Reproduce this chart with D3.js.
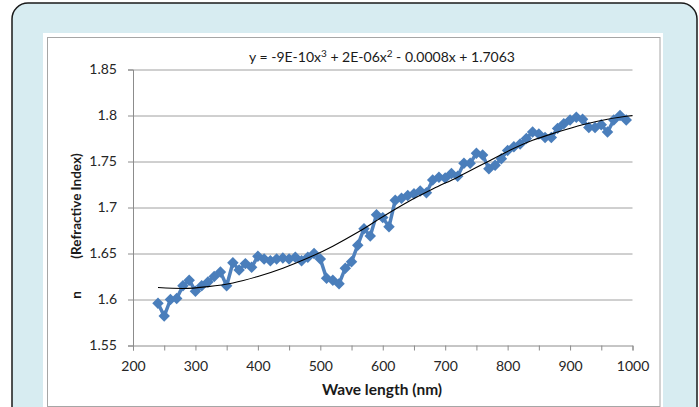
<!DOCTYPE html>
<html>
<head>
<meta charset="utf-8">
<script src="https://cdn.jsdelivr.net/npm/d3@7"></script>
<style>
body { margin: 0; background: #ffffff; }
svg { display: block; font-family: Lato, "Open Sans", sans-serif; }
.tick text { fill: #262626; }
</style>
</head>
<body>
<svg id="chart"></svg>
<script>
// wavelengths (nm) of the measured points
var waveLengths = [240, 250, 260, 270, 280, 290, 300, 310, 320, 330,
    340, 350, 360, 370, 380, 390, 400, 410, 420, 430,
    440, 450, 460, 470, 480, 490, 500, 510, 520, 530,
    540, 550, 560, 570, 580, 590, 600, 610, 620, 630,
    640, 650, 660, 670, 680, 690, 700, 710, 720, 730,
    740, 750, 760, 770, 780, 790, 800, 810, 820, 830,
    840, 850, 860, 870, 880, 890, 900, 910, 920, 930,
    940, 950, 960, 970, 980, 990]

// refractive index n
var refIndex = [1.596, 1.582, 1.600, 1.601, 1.615, 1.621, 1.609, 1.615, 1.619, 1.625,
    1.630, 1.615, 1.640, 1.632, 1.639, 1.635, 1.647, 1.644, 1.642, 1.644,
    1.645, 1.644, 1.646, 1.642, 1.646, 1.650, 1.644, 1.623, 1.621, 1.617,
    1.634, 1.641, 1.659, 1.677, 1.669, 1.692, 1.689, 1.679, 1.708, 1.710,
    1.713, 1.715, 1.718, 1.716, 1.730, 1.733, 1.732, 1.737, 1.734, 1.748,
    1.748, 1.759, 1.757, 1.742, 1.746, 1.753, 1.762, 1.766, 1.769, 1.775,
    1.782, 1.780, 1.776, 1.776, 1.786, 1.791, 1.795, 1.798, 1.796, 1.787,
    1.787, 1.790, 1.782, 1.795, 1.800, 1.795]

// polynomial trendline
var trendX = [240, 280, 320, 360, 400, 440, 480, 520, 560, 600,
    640, 680, 720, 760, 800, 840, 880, 920, 960, 1000]
var trendY = [1.613, 1.612, 1.614, 1.618, 1.625, 1.634, 1.645, 1.658, 1.673, 1.690,
    1.706, 1.720, 1.733, 1.747, 1.761, 1.773, 1.782, 1.790, 1.796, 1.800]

var xTicks = [200, 250, 300, 350, 400, 450, 500, 550, 600, 650, 700, 750, 800, 850, 900, 950, 1000]
var xTickLabels = ["200", "", "300", "", "400", "", "500", "", "600", "", "700", "", "800", "", "900", "", "1000"]
var yTicks = [1.55, 1.6, 1.65, 1.7, 1.75, 1.8, 1.85]
var yTickLabels = ["1.55", "1.6", "1.65", "1.7", "1.75", "1.8", "1.85"]

// equation pieces: [text, isSuperscript]
var equationParts = [["y = -9E-10x", false], ["3", true], [" + 2E-06x", false], ["2", true], [" - 0.0008x + 1.7063", false]]

var screen = { width: 699, height: 407 }
var plot = { left: 133, right: 632.5, top: 69.5, bottom: 345.5 }

var svg = d3.select("#chart")
    .attr("width", screen.width)
    .attr("height", screen.height)

// frame: light blue rounded panel, white chart area, grey border
svg.append("rect")
    .attr("x", 12).attr("y", 3)
    .attr("width", 685).attr("height", 440)
    .attr("rx", 16)
    .attr("fill", "#d7ecf1")
    .attr("stroke", "#1a1a1a")
    .attr("stroke-width", 1.5)
svg.append("rect")
    .attr("x", 43).attr("y", 33)
    .attr("width", 620).attr("height", 400)
    .attr("fill", "#ffffff")
svg.append("rect")
    .attr("x", 47.5).attr("y", 37.5)
    .attr("width", 612.5).attr("height", 369)
    .attr("fill", "none")
    .attr("stroke", "#a6a6a6")

var xScale = d3.scaleLinear()
    .domain([200, 1000])
    .range([plot.left, plot.right])

var yScale = d3.scaleLinear()
    .domain([1.55, 1.85])
    .range([plot.bottom, plot.top])

// gridlines
svg.append("g")
    .attr("transform", "translate(" + plot.left + ",0)")
    .call(d3.axisLeft(yScale)
        .tickValues(yTicks.slice(1))
        .tickSize(-(plot.right - plot.left))
        .tickFormat(""))
    .call(function (g) {
        g.select(".domain").remove()
        g.selectAll("line").attr("stroke", "#a0a0a0")
    })

var yAxis = d3.axisLeft(yScale)
    .tickValues(yTicks)
    .tickSize(5)
    .tickPadding(11)
    .tickFormat(function (d, i) { return yTickLabels[i] })

svg.append("g")
    .attr("transform", "translate(" + plot.left + ",0)")
    .call(yAxis)
    .call(function (g) {
        g.select(".domain").attr("stroke", "#8c8c8c")
        g.selectAll("line").attr("stroke", "#8c8c8c")
        g.selectAll("text").attr("font-size", 14).attr("font-family", "Lato")
    })

var xAxis = d3.axisBottom(xScale)
    .tickValues(xTicks)
    .tickSize(5)
    .tickPadding(11)
    .tickFormat(function (d, i) { return xTickLabels[i] })

svg.append("g")
    .attr("transform", "translate(0," + plot.bottom + ")")
    .call(xAxis)
    .call(function (g) {
        g.select(".domain").attr("stroke", "#8c8c8c")
        g.selectAll("line").attr("stroke", "#8c8c8c")
        g.selectAll("text").attr("font-size", 14).attr("font-family", "Lato")
    })

// data series: line + diamond markers
var points = waveLengths.map(function (w, i) {
    return { wl: w, n: refIndex[i] }
})

var lineGen = d3.line()
    .x(function (d) { return xScale(d.wl) })
    .y(function (d) { return yScale(d.n) })

svg.append("path")
    .datum(points)
    .attr("d", lineGen)
    .attr("fill", "none")
    .attr("stroke", "#4f81bd")
    .attr("stroke-width", 3.5)
    .attr("stroke-linejoin", "round")

var diamond = d3.symbol().type(d3.symbolSquare).size(66)

svg.append("g")
    .selectAll("path")
    .data(points)
    .enter()
    .append("path")
    .attr("d", diamond)
    .attr("transform", function (d) {
        return "translate(" + xScale(d.wl) + "," + yScale(d.n) + ") rotate(45)"
    })
    .attr("fill", "#4a7ebb")

// trendline
var trend = trendX.map(function (x, i) {
    return { wl: x, n: trendY[i] }
})

svg.append("path")
    .datum(trend)
    .attr("d", d3.line()
        .x(function (d) { return xScale(d.wl) })
        .y(function (d) { return yScale(d.n) })
        .curve(d3.curveMonotoneX))
    .attr("fill", "none")
    .attr("stroke", "#000000")
    .attr("stroke-width", 1.1)

// labels
var eq = svg.append("text")
    .attr("x", 382)
    .attr("y", 62)
    .attr("text-anchor", "middle")
    .attr("font-size", 14)
    .attr("fill", "#1a1a1a")
eq.selectAll("tspan")
    .data(equationParts)
    .enter()
    .append("tspan")
    .text(function (d) { return d[0] })
    .attr("font-size", function (d) { return d[1] ? 10 : 14 })
    .attr("dy", function (d, i) {
        if (d[1]) return -5
        return i > 0 ? 5 : 0
    })

svg.append("text")
    .text("Wave length (nm)")
    .attr("x", 382)
    .attr("y", 395)
    .attr("text-anchor", "middle")
    .attr("font-size", 15.5)
    .attr("font-weight", "bold")
    .attr("fill", "#1a1a1a")

svg.append("text")
    .text("(Refractive Index)")
    .attr("transform", "translate(81,206) rotate(-90)")
    .attr("text-anchor", "middle")
    .attr("font-size", 13.5)
    .attr("font-weight", "bold")
    .attr("fill", "#1a1a1a")

svg.append("text")
    .text("n")
    .attr("transform", "translate(81,295) rotate(-90)")
    .attr("text-anchor", "middle")
    .attr("font-size", 13.5)
    .attr("font-weight", "bold")
    .attr("fill", "#1a1a1a")
</script>
</body>
</html>
